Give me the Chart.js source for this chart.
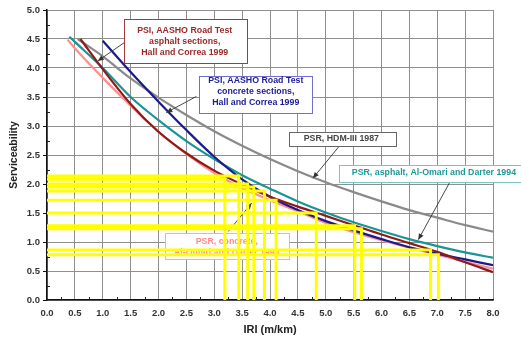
<!DOCTYPE html>
<html><head><meta charset="utf-8">
<script src="https://cdn.jsdelivr.net/npm/chart.js@4"></script>
<style>html,body{margin:0;padding:0;background:#fff}#wrap{width:521px;height:337px;position:relative}</style>
</head><body><div id="wrap"><canvas id="c" width="521" height="337"></canvas></div>
<script>
// ---- data ----
const xTickValues = [0,0.5,1,1.5,2,2.5,3,3.5,4,4.5,5,5.5,6,6.5,7,7.5,8];
const yTickValues = [0,0.5,1,1.5,2,2.5,3,3.5,4,4.5,5];

// PSI, AASHO Road Test asphalt sections (Hall and Correa 1999)
const redX = [0.6,1,1.5,2,2.5,3,3.5,4,4.5,5,5.5,6,6.5,7,7.5,8];
const redY = [4.5,3.98,3.38,2.9,2.53,2.23,1.99,1.78,1.61,1.45,1.29,1.13,0.98,0.83,0.65,0.48];
// PSI, AASHO Road Test concrete sections (Hall and Correa 1999)
const blueX = [1,1.5,2,2.5,3,3.5,4,4.5,5,5.5,6,6.5,7,7.5,8];
const blueY = [4.47,3.93,3.42,2.93,2.47,2.08,1.78,1.55,1.36,1.2,1.05,0.91,0.8,0.7,0.6];
// PSR, HDM-III 1987
const grayX = [0.55,1,1.5,2,2.5,3,3.5,4,4.5,5,5.5,6,6.5,7,7.5,8];
const grayY = [4.5,4.2,3.82,3.49,3.19,2.91,2.66,2.43,2.22,2.03,1.86,1.7,1.55,1.42,1.29,1.18];
// PSR, asphalt, Al-Omari and Darter 1994
const tealX = [0.4,0.5,1,1.5,2,2.5,3,3.5,4,4.5,5,5.5,6,6.5,7,7.5,8];
const tealY = [4.54,4.45,4.0,3.5,3.1,2.74,2.43,2.15,1.92,1.7,1.51,1.34,1.19,1.05,0.93,0.82,0.73];
// PSR, concrete, Al-Omari and Darter 1994
const pinkX = [0.37,0.5,1,1.5,2,2.5,3,3.5,4,4.5,5,5.5,6,6.5,7,7.5,8];
const pinkY = [4.49,4.34,3.83,3.35,2.9,2.52,2.19,1.93,1.72,1.53,1.33,1.17,1.03,0.9,0.78,0.66,0.54];
// yellow highlight lines: IRI value and serviceability value of each corner
const yellowX = [3.19,3.44,3.6,3.71,3.9,4.11,4.83,5.52,5.64,6.88,7.02];
const yellowY = [2.08,2.14,2.0,1.95,1.88,1.72,1.5,1.28,1.23,0.86,0.78];

const FONT = '"Liberation Sans", Arial, sans-serif';

// annotation boxes (data coordinates)
const notes = [
  {lines:['PSI, AASHO Road Test','asphalt sections,','Hall and Correa 1999'], x0:1.39,x1:3.58,y0:4.09,y1:4.84, tx:2.47, ty:4.46,
   color:'#9b2a2a', border:'#a33a3a', arrow:[1.39,4.44,0.91,4.12], under:false},
  {lines:['PSI, AASHO Road Test','concrete sections,','Hall and Correa 1999'], x0:2.73,x1:4.76,y0:3.22,y1:3.87, tx:3.745, ty:3.6,
   color:'#1c1c96', border:'#7070d0', arrow:[2.68,3.51,2.14,3.23], under:false},
  {lines:['PSR, HDM-III 1987'], x0:4.34,x1:6.26,y0:2.66,y1:2.9, tx:5.28, ty:2.79,
   color:'#444', border:'#666', arrow:[5.24,2.65,4.77,2.1], under:false},
  {lines:['PSR, asphalt, Al-Omari and Darter 1994'], x0:5.24,x1:8.7,y0:2.04,y1:2.33, tx:6.94, ty:2.2,
   color:'#1f9a9a', border:'#7cc4c4', arrow:[7.23,2.04,6.66,1.04], under:false},
  {lines:['PSR, concrete,','Al-Omari and Darter 1994'], x0:2.11,x1:4.34,y0:0.7,y1:1.15, tx:3.225, ty:0.915,
   color:'#ff8c8c', border:'#ffaaaa', arrow:[3.25,1.18,3.67,1.67], under:true}
];

function pts(xs, ys){ return xs.map((x,i)=>({x:x, y:ys[i]})); }

const datasets = [];
yellowX.forEach((x,i)=>{
  datasets.push({label:'hl'+i, data:[{x:0,y:yellowY[i]},{x:x,y:yellowY[i]},{x:x,y:0}],
    borderColor:'#ffff00', borderWidth:3, pointRadius:0, showLine:true, tension:0, fill:false});
});
const curves = [
  [redX, redY, '#8e1a1a'],
  [blueX, blueY, '#1a1a8c'],
  [tealX, tealY, '#1a9494'],
  [pinkX, pinkY, '#ff8f8f'],
  [grayX, grayY, '#8a8a8a']
];
curves.forEach((c,i)=>{
  datasets.push({label:'c'+i, data:pts(c[0],c[1]), borderColor:c[2], borderWidth:2.2, pointRadius:0,
    showLine:true, cubicInterpolationMode:'monotone', fill:false});
});

function arrow(ctx, x0, y0, x1, y1){
  ctx.save();
  ctx.strokeStyle='#333'; ctx.fillStyle='#333'; ctx.lineWidth=0.9;
  ctx.beginPath(); ctx.moveTo(x0,y0); ctx.lineTo(x1,y1); ctx.stroke();
  const a = Math.atan2(y1-y0, x1-x0), L=6, W=2.6;
  ctx.beginPath();
  ctx.moveTo(x1,y1);
  ctx.lineTo(x1 - L*Math.cos(a) + W*Math.sin(a), y1 - L*Math.sin(a) - W*Math.cos(a));
  ctx.lineTo(x1 - L*Math.cos(a) - W*Math.sin(a), y1 - L*Math.sin(a) + W*Math.cos(a));
  ctx.closePath(); ctx.fill();
  ctx.restore();
}
function drawNote(chart, n){
  const ctx = chart.ctx, xs = chart.scales.x, ys = chart.scales.y;
  const a = n.arrow;
  arrow(ctx, xs.getPixelForValue(a[0]), ys.getPixelForValue(a[1]), xs.getPixelForValue(a[2]), ys.getPixelForValue(a[3]));
  const X0 = Math.round(xs.getPixelForValue(n.x0))+0.5, X1 = Math.round(xs.getPixelForValue(n.x1))+0.5;
  const Y0 = Math.round(ys.getPixelForValue(n.y1))+0.5, Y1 = Math.round(ys.getPixelForValue(n.y0))+0.5;
  ctx.save();
  ctx.fillStyle='#fff'; ctx.fillRect(X0,Y0,X1-X0,Y1-Y0);
  ctx.strokeStyle=n.border; ctx.lineWidth=1; ctx.strokeRect(X0,Y0,X1-X0,Y1-Y0);
  ctx.fillStyle=n.color; ctx.font='bold 8.8px '+FONT; ctx.textAlign='center'; ctx.textBaseline='middle';
  const cx = xs.getPixelForValue(n.tx), cy = ys.getPixelForValue(n.ty), lh = 11;
  n.lines.forEach((t,i)=>{ ctx.fillText(t, cx, cy + (i-(n.lines.length-1)/2)*lh); });
  ctx.restore();
}

const extras = {
  id:'extras',
  beforeDatasetsDraw(chart){
    const ctx = chart.ctx, xs = chart.scales.x, ys = chart.scales.y, ca = chart.chartArea;
    ctx.save(); ctx.strokeStyle='#222'; ctx.lineWidth=1;
    ctx.beginPath();
    for (let k=0;k<16;k++){ const p = Math.round(xs.getPixelForValue(0.25+0.5*k))+0.5; ctx.moveTo(p, ca.bottom); ctx.lineTo(p, ca.bottom-3); }
    for (let k=0;k<10;k++){ const p = Math.round(ys.getPixelForValue(0.25+0.5*k))+0.5; ctx.moveTo(ca.left, p); ctx.lineTo(ca.left+3, p); }
    ctx.stroke(); ctx.restore();
    notes.filter(n=>n.under).forEach(n=>drawNote(chart,n));
  },
  afterDatasetsDraw(chart){
    notes.filter(n=>!n.under).forEach(n=>drawNote(chart,n));
  }
};

new Chart(document.getElementById('c'), {
  type:'scatter',
  data:{datasets:datasets},
  options:{
    responsive:false, animation:false, devicePixelRatio:1,
    layout:{padding:{top:10,right:28,left:0,bottom:0}},
    plugins:{legend:{display:false}, tooltip:{enabled:false}},
    scales:{
      x:{type:'linear', min:0, max:8,
        afterBuildTicks(s){ s.ticks = xTickValues.map(v=>({value:v})); },
        afterFit(s){ s.height = 37; },
        ticks:{autoSkip:false, maxRotation:0, padding:8, color:'#333', font:{family:FONT, size:9.5, weight:'bold'}, callback:v=>Number(v).toFixed(1)},
        grid:{color:'#8f8f8f', lineWidth:1, drawTicks:false},
        border:{color:'#111', width:1.5},
        title:{display:true, text:'IRI (m/km)', color:'#222', font:{family:FONT, size:11, weight:'bold'}, padding:{top:0,bottom:0}}
      },
      y:{type:'linear', min:0, max:5,
        afterBuildTicks(s){ s.ticks = yTickValues.map(v=>({value:v})); },
        afterFit(s){ s.width = 47; },
        ticks:{autoSkip:false, padding:3, color:'#333', font:{family:FONT, size:9.5, weight:'bold'}, callback:v=>Number(v).toFixed(1)},
        grid:{color:'#8f8f8f', lineWidth:1, tickLength:4, tickColor:'#111'},
        border:{color:'#111', width:1.5},
        title:{display:true, text:'Serviceability', color:'#222', font:{family:FONT, size:10.5, weight:'bold'}, padding:{top:8,bottom:0}}
      }
    }
  },
  plugins:[extras]
});
</script></body></html>
